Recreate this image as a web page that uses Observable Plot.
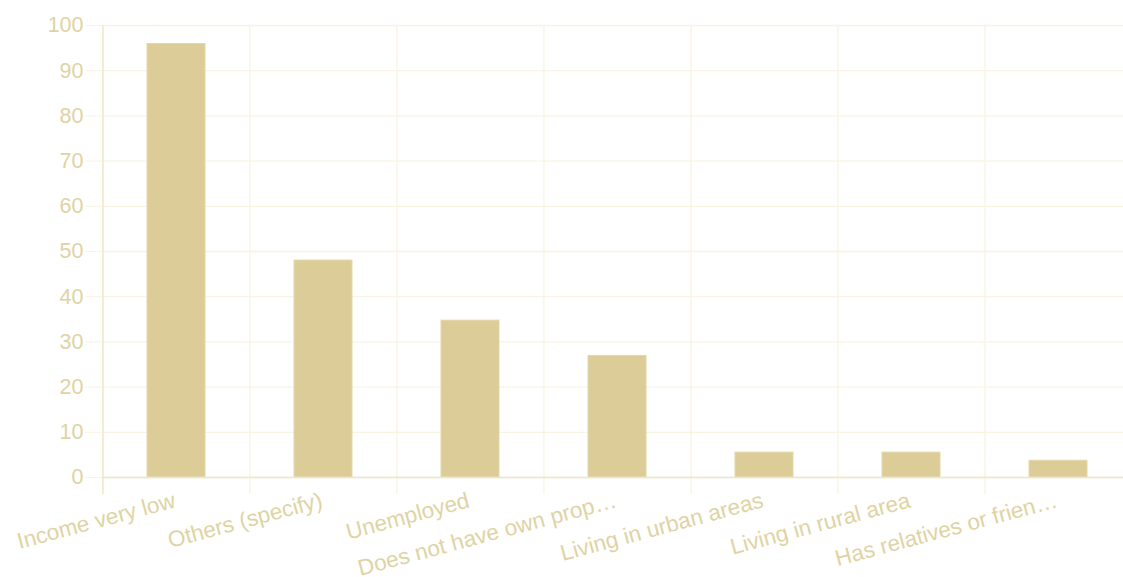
<!DOCTYPE html>
<html>
<head>
<meta charset="utf-8">
<script src="https://cdn.jsdelivr.net/npm/d3@7"></script>
<script src="https://cdn.jsdelivr.net/npm/@observablehq/plot@0.6"></script>
<style>
  html, body { margin: 0; padding: 0; background: #fff; overflow: hidden; }
  #chart svg { display: block; max-width: none !important; height: 577px !important; }
</style>
</head>
<body>
<div id="chart"></div>
<script>
const categories = [
  "Income very low",
  "Others (specify)",
  "Unemployed",
  "Does not have own prop…",
  "Living in urban areas",
  "Living in rural area",
  "Has relatives or frien…"
];
const values = [95.9, 48.0, 34.7, 26.9, 5.5, 5.5, 3.7];
const yTicks = [0, 10, 20, 30, 40, 50, 60, 70, 80, 90, 100];

const data = categories.map((c, i) => ({category: c, value: values[i]}));

const W = 1132, H = 577, ML = 102, MR = 0, MT = 25, MB = 100;
const step = (W - ML - MR) / categories.length;

const barColor = "#dccd98";
const textColor = "#e0d3a3";
const gridColor = "#f8f3e2";
const axisColor = "#efe6c9";

const chart = Plot.plot({
  width: W,
  height: H,
  marginLeft: ML,
  marginRight: MR,
  marginTop: MT,
  marginBottom: MB,
  style: {fontFamily: "'Liberation Sans', Arial, sans-serif", background: "#fff", maxWidth: "none"},
  x: {domain: categories, paddingInner: 0.606, paddingOuter: 0.303, axis: null},
  y: {domain: [0, 100], axis: null},
  marks: [
    Plot.ruleY(yTicks, {y: d => d, stroke: gridColor, strokeWidth: 1.3}),
    Plot.ruleX(categories, {x: d => d, dx: -step / 2, y1: 100, y2: 0, insetBottom: -17, stroke: gridColor, strokeWidth: 1.3}),
    Plot.ruleX([categories[0]], {x: d => d, dx: -step / 2, y1: 100, y2: 0, insetBottom: -17, stroke: axisColor, strokeWidth: 1.3}),
    Plot.barY(data, {x: "category", y: "value", fill: barColor, stroke: "#e3d7aa", strokeWidth: 1}),
    Plot.ruleY([0], {stroke: axisColor, strokeWidth: 1.5}),
    Plot.axisY({ticks: yTicks, tickSize: 17, tickPadding: 2, stroke: gridColor, color: textColor, fontSize: 21.5, label: null, tickFormat: d => String(d)}),
    Plot.text(categories, {
      x: d => d, y: () => 0, text: d => d,
      dy: 14, dx: -4, rotate: -15,
      textAnchor: "end", lineAnchor: "top",
      fill: textColor, fontSize: 22.5
    })
  ]
});

document.getElementById("chart").appendChild(chart);
</script>
</body>
</html>
